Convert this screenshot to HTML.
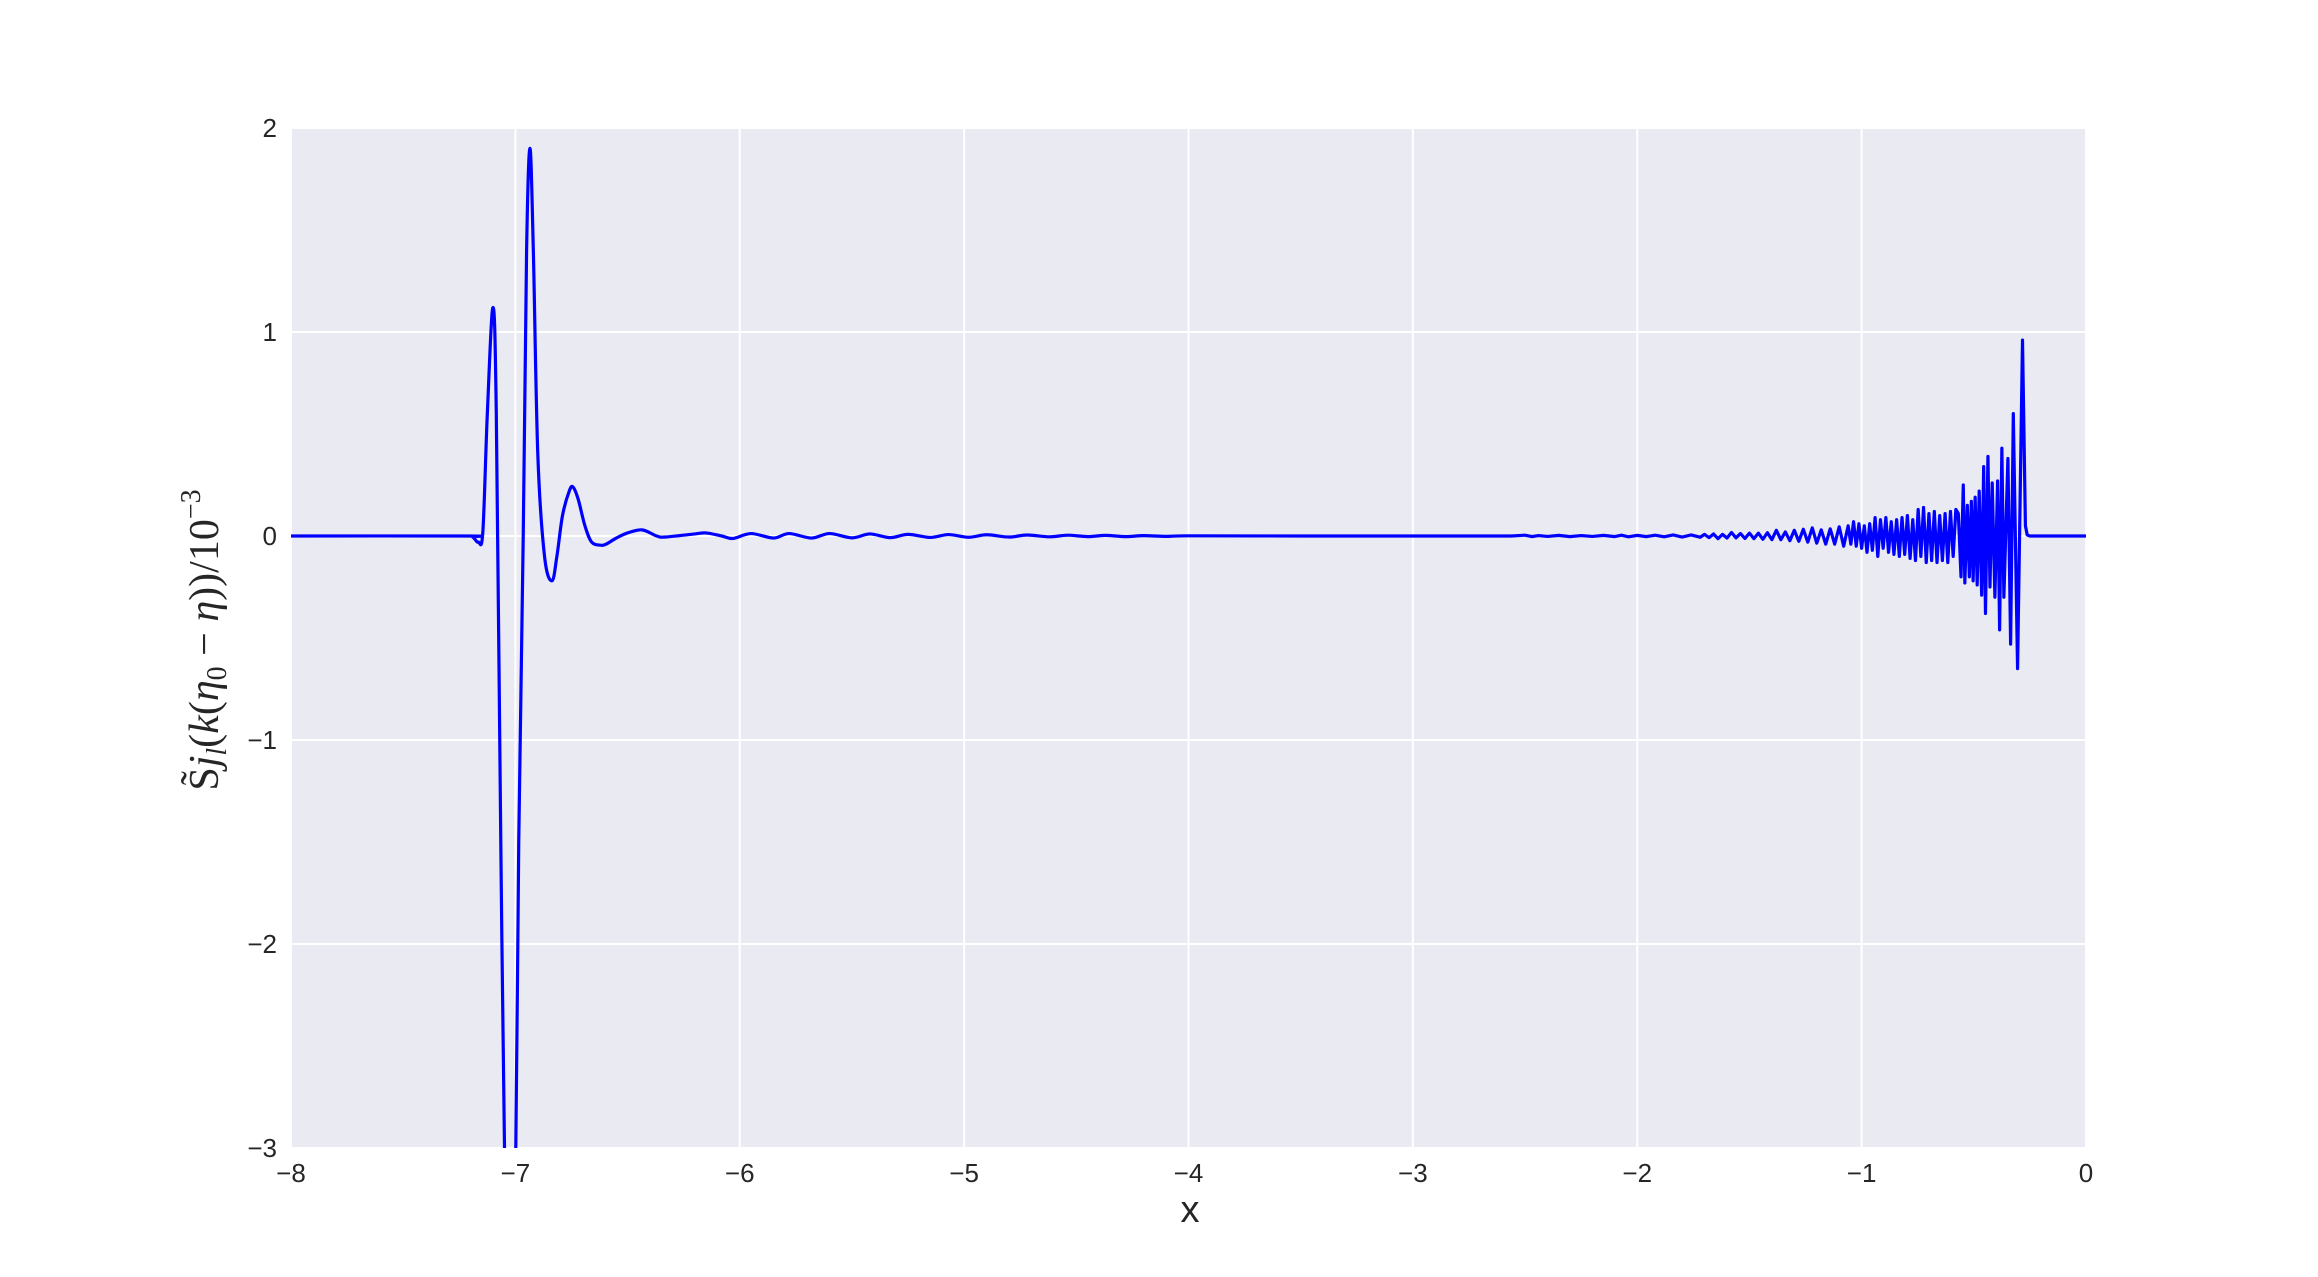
<!DOCTYPE html>
<html><head><meta charset="utf-8"><style>
html,body{margin:0;padding:0;background:#fff;}
svg{display:block;}
.tk{font-family:"Liberation Sans",Arial,sans-serif;font-size:26px;fill:#262626;}
</style></head><body>
<svg id="chart" width="2318" height="1277" xmlns="http://www.w3.org/2000/svg">
<defs><clipPath id="pc"><rect x="291" y="128" width="1795" height="1020"/></clipPath></defs>
<rect x="291" y="128" width="1795" height="1020" fill="#EAEAF2"/>
<g id="grid"></g>
<g id="ticks"></g>
<path id="line" clip-path="url(#pc)" fill="none" stroke="#0000FF" stroke-width="3.2" stroke-linejoin="round"/>
<text x="1190" y="1222" text-anchor="middle" font-family="Liberation Sans, Arial, sans-serif" font-size="38" fill="#262626">x</text>
<g transform="translate(218,640) rotate(-90)">
<text x="0" y="0" text-anchor="middle" font-family="Liberation Serif, DejaVu Serif, serif" font-size="42" fill="#262626"><tspan font-style="normal">S̃</tspan><tspan font-style="italic">j</tspan><tspan font-style="italic" font-size="28" dy="8">l</tspan><tspan dy="-8">(</tspan><tspan font-style="italic">k</tspan>(<tspan font-style="italic">η</tspan><tspan font-size="28" dy="8">0</tspan><tspan dy="-8"> − </tspan><tspan font-style="italic">η</tspan>))/10<tspan font-size="28" dy="-18">−3</tspan></text>
</g>
</svg>
<script>
const xTicks=[-8,-7,-6,-5,-4,-3,-2,-1,0];
const yTicks=[-3,-2,-1,0,1,2];
const xLeft=[-8,-7.22,-7.19,-7.165,-7.145,-7.125,-7.10,-7.085,-7.065,-7.045,-7.025,-7.0,-6.985,-6.965,-6.95,-6.935,-6.92,-6.9,-6.87,-6.837,-6.815,-6.79,-6.76,-6.743,-6.72,-6.69,-6.66,-6.62,-6.596,-6.55,-6.5,-6.435,-6.37,-6.33,-6.2,-6.15,-6.08,-6.03,-5.95,-5.85,-5.78,-5.68,-5.6,-5.5,-5.42,-5.33,-5.25,-5.15,-5.07,-4.98,-4.9,-4.8,-4.72,-4.62,-4.54,-4.45,-4.37,-4.28,-4.2,-4.1,-4.0,-3.5,-3.0,-2.6];
const yLeft=[0,0,-0.005,-0.03,0.02,0.6,1.12,0.6,-1.5,-3.3,-3.8,-3.2,-1.5,0,1.4,1.9,1.4,0.4,-0.1,-0.22,-0.1,0.1,0.22,0.24,0.18,0.05,-0.03,-0.045,-0.04,-0.01,0.015,0.03,0.0,-0.005,0.01,0.015,0.0,-0.012,0.012,-0.01,0.012,-0.01,0.012,-0.009,0.01,-0.008,0.008,-0.007,0.007,-0.006,0.006,-0.005,0.005,-0.004,0.004,-0.003,0.003,-0.003,0.002,-0.002,0.001,0,0,0];
const xRight=[-2.56,-2.5,-2.47,-2.44,-2.4,-2.35,-2.3,-2.25,-2.2,-2.15,-2.1,-2.07,-2.04,-2.0,-1.96,-1.92,-1.88,-1.84,-1.80,-1.76,-1.72,-1.70,-1.68,-1.66,-1.64,-1.62,-1.60,-1.58,-1.56,-1.54,-1.52,-1.50,-1.48,-1.46,-1.44,-1.42,-1.40,-1.38,-1.36,-1.34,-1.32,-1.30,-1.28,-1.26,-1.24,-1.22,-1.20,-1.18,-1.16,-1.14,-1.12,-1.10,-1.08,-1.06,-1.048,-1.036,-1.024,-1.012,-1.0,-0.988,-0.976,-0.964,-0.952,-0.94,-0.928,-0.916,-0.904,-0.892,-0.88,-0.868,-0.856,-0.844,-0.832,-0.82,-0.808,-0.796,-0.784,-0.772,-0.76,-0.748,-0.736,-0.724,-0.712,-0.70,-0.688,-0.676,-0.664,-0.652,-0.64,-0.628,-0.616,-0.604,-0.592,-0.58,-0.569,-0.557,-0.547,-0.540,-0.529,-0.520,-0.511,-0.503,-0.494,-0.485,-0.476,-0.465,-0.456,-0.448,-0.437,-0.428,-0.418,-0.406,-0.394,-0.385,-0.375,-0.366,-0.348,-0.336,-0.324,-0.305,-0.283,-0.27,-0.262,-0.25,0];
const yRight=[0,0.004,-0.003,0.002,-0.002,0.003,-0.003,0.002,-0.002,0.003,-0.003,0.004,-0.004,0.003,-0.003,0.004,-0.004,0.005,-0.005,0.005,-0.006,0.008,-0.008,0.01,-0.013,0.008,-0.01,0.017,-0.009,0.012,-0.012,0.014,-0.013,0.014,-0.016,0.016,-0.018,0.028,-0.018,0.02,-0.023,0.028,-0.026,0.033,-0.03,0.04,-0.035,0.03,-0.04,0.035,-0.04,0.045,-0.05,0.05,-0.04,0.07,-0.05,0.06,-0.06,0.05,-0.08,0.06,-0.07,0.09,-0.1,0.08,-0.06,0.09,-0.08,0.07,-0.09,0.08,-0.1,0.09,-0.09,0.10,-0.11,0.08,-0.12,0.13,-0.1,0.14,-0.13,0.11,-0.12,0.12,-0.13,0.1,-0.12,0.11,-0.13,0.12,-0.1,0.13,0.11,-0.20,0.25,-0.23,0.15,-0.20,0.17,-0.22,0.19,-0.24,0.22,-0.29,0.34,-0.38,0.39,-0.25,0.26,-0.30,0.27,-0.46,0.43,-0.30,0.38,-0.53,0.60,-0.65,0.96,0.05,0.005,0,0];
const x0=291,x1=2086,yT=128,yB=1148;
const xs=v=>x0+(v+8)/8*(x1-x0);
const ys=v=>yB-(v+3)/5*(yB-yT);
const svgNS="http://www.w3.org/2000/svg";
const grid=document.getElementById('grid'),tk=document.getElementById('ticks');
xTicks.forEach(t=>{
 const l=document.createElementNS(svgNS,'line');
 l.setAttribute('x1',xs(t));l.setAttribute('x2',xs(t));l.setAttribute('y1',yT);l.setAttribute('y2',yB);
 l.setAttribute('stroke','#fff');l.setAttribute('stroke-width','2');
 
 
 grid.appendChild(l);
 const s=document.createElementNS(svgNS,'text');
 s.setAttribute('x',xs(t));s.setAttribute('y',yB+34);s.setAttribute('text-anchor','middle');s.setAttribute('class','tk');
 s.textContent=t<0?'\u2212'+Math.abs(t):String(t);
 
 
 tk.appendChild(s);
});
yTicks.forEach(t=>{
 const l=document.createElementNS(svgNS,'line');
 l.setAttribute('x1',x0);l.setAttribute('x2',x1);l.setAttribute('y1',ys(t));l.setAttribute('y2',ys(t));
 l.setAttribute('stroke','#fff');l.setAttribute('stroke-width','2');
 
 
 grid.appendChild(l);
 const s=document.createElementNS(svgNS,'text');
 s.setAttribute('x',x0-14);s.setAttribute('y',ys(t)+9);s.setAttribute('text-anchor','end');s.setAttribute('class','tk');
 s.textContent=t<0?'\u2212'+Math.abs(t):String(t);
 
 
 tk.appendChild(s);
});
const P=xLeft.map((x,i)=>[xs(x),ys(yLeft[i])]);
let d='M'+P[0][0]+','+P[0][1];
for(let i=0;i<P.length-1;i++){
 const p0=P[Math.max(0,i-1)],p1=P[i],p2=P[i+1],p3=P[Math.min(P.length-1,i+2)];
 const c1x=p1[0]+(p2[0]-p0[0])/6,c1y=p1[1]+(p2[1]-p0[1])/6;
 const c2x=p2[0]-(p3[0]-p1[0])/6,c2y=p2[1]-(p3[1]-p1[1])/6;
 d+=' C'+c1x.toFixed(2)+','+c1y.toFixed(2)+' '+c2x.toFixed(2)+','+c2y.toFixed(2)+' '+p2[0].toFixed(2)+','+p2[1].toFixed(2);
}
xRight.forEach((x,i)=>{d+=' L'+xs(x).toFixed(2)+','+ys(yRight[i]).toFixed(2);});
document.getElementById('line').setAttribute('d',d);
</script>
</body></html>
